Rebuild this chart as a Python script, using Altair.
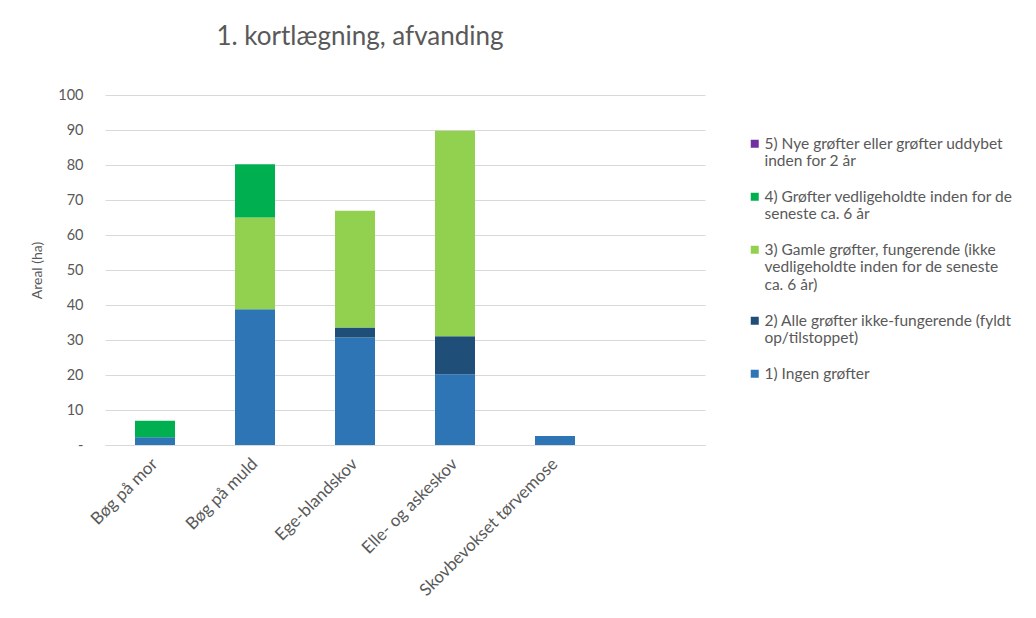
import altair as alt
import pandas as pd

categories = ["Bøg på mor", "Bøg på muld", "Ege-blandskov", "Elle- og askeskov", "Skovbevokset tørvemose"]
series = [
    "1) Ingen grøfter",
    "2) Alle grøfter ikke-fungerende (fyldt\nop/tilstoppet)",
    "3) Gamle grøfter, fungerende (ikke\nvedligeholdte inden for de seneste\nca. 6 år)",
    "4) Grøfter vedligeholdte inden for de\nseneste ca. 6 år",
    "5) Nye grøfter eller grøfter uddybet\ninden for 2 år",
]
colors = ["#2E75B6", "#1F4E79", "#92D050", "#00B050", "#7030A0"]

s1 = [2.2, 38.8, 30.7, 20.2, 2.6]
s2 = [0.0, 0.0, 2.9, 10.9, 0.0]
s3 = [0.0, 26.2, 33.3, 58.7, 0.0]
s4 = [4.7, 15.2, 0.0, 0.0, 0.0]
s5 = [0.0, 0.0, 0.0, 0.0, 0.0]

rows = []
for si, (name, vals) in enumerate(zip(series, [s1, s2, s3, s4, s5])):
    for c, v in zip(categories, vals):
        rows.append({"kategori": c, "serie": name, "orden": si, "areal": v})
df = pd.DataFrame(rows)

FONT = "Lato"
GREY = "#595959"

chart = alt.Chart(df).mark_bar().encode(
    x=alt.X("kategori:N", sort=categories,
            scale=alt.Scale(domain=categories + [" "], paddingInner=0.6, paddingOuter=0.3),
            axis=alt.Axis(title=None, labelAngle=-45, labelAlign="right", labelBaseline="middle",
                          labelPadding=16, ticks=False, domainColor="#D9D9D9", labelColor=GREY,
                          labelFontSize=17, labelFont=FONT, labelLimit=400, grid=False)),
    y=alt.Y("sum(areal):Q", stack="zero",
            scale=alt.Scale(domain=[0, 100]),
            axis=alt.Axis(title="Areal (ha)", values=list(range(0, 101, 10)),
                          labelExpr="datum.value == 0 ? '-' : datum.label",
                          domain=False, ticks=False, gridColor="#D9D9D9", labelPadding=22,
                          titlePadding=13, titleFontWeight="normal", titleColor=GREY,
                          labelColor=GREY, labelFontSize=14.5, titleFontSize=14,
                          labelFont=FONT, titleFont=FONT)),
    color=alt.Color("serie:N",
                    scale=alt.Scale(domain=series[::-1], range=colors[::-1]),
                    legend=alt.Legend(title=None, orient="none", legendX=642, legendY=41,
                                      labelExpr="split(datum.label, '\\n')",
                                      labelLimit=400, labelFontSize=15.5, labelColor=GREY,
                                      labelFont=FONT, labelOffset=2, symbolType="square",
                                      symbolSize=64, symbolStrokeWidth=0, rowPadding=19)),
    order=alt.Order("orden:Q", sort="ascending"),
).properties(
    width=600,
    height=350,
    title=alt.TitleParams("1. kortlægning, afvanding", fontSize=26, font=FONT, color=GREY,
                          fontWeight="normal", anchor="middle", dx=-45, offset=37),
    autosize=alt.AutoSizeParams(type="none"),
    padding={"left": 97, "top": 87, "right": 322, "bottom": 165},
    background="white",
).configure_view(strokeWidth=0)

chart.save("out.html", embed_options={"renderer": "svg", "actions": False})
